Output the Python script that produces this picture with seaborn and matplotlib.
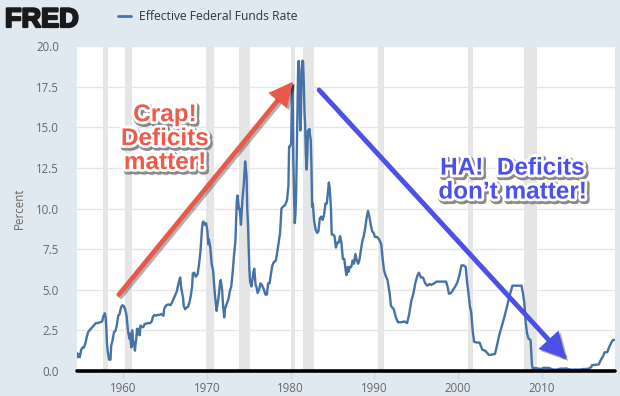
import numpy as np
import pandas as pd
import matplotlib
matplotlib.use("Agg")
import matplotlib.pyplot as plt
import matplotlib.patheffects as pe
import seaborn as sns

# ---------------- data ----------------
years = [
    1954.50, 1954.58, 1954.67, 1954.83, 1955.00, 1955.17, 1955.33, 1955.50, 1955.67, 1955.83,
    1956.00, 1956.25, 1956.50, 1956.75, 1957.00, 1957.25, 1957.50, 1957.67, 1957.83, 1957.92,
    1958.00, 1958.08, 1958.17, 1958.33, 1958.42, 1958.50, 1958.58, 1958.75, 1958.92, 1959.08,
    1959.25, 1959.42, 1959.58, 1959.75, 1959.92, 1960.08, 1960.25, 1960.42, 1960.58, 1960.75,
    1960.83, 1960.92, 1961.00, 1961.08, 1961.17, 1961.25, 1961.33, 1961.42, 1961.50, 1961.58,
    1961.67, 1961.75, 1961.83, 1962.00, 1962.08, 1962.25, 1962.42, 1962.58, 1962.75, 1962.92,
    1963.08, 1963.25, 1963.42, 1963.58, 1963.75, 1963.92, 1964.08, 1964.33, 1964.58, 1964.83,
    1964.92, 1965.17, 1965.42, 1965.67, 1965.92, 1966.17, 1966.42, 1966.58, 1966.75, 1966.83,
    1966.92, 1967.00, 1967.17, 1967.25, 1967.42, 1967.58, 1967.75, 1967.92, 1968.08, 1968.25,
    1968.33, 1968.50, 1968.67, 1968.83, 1968.92, 1969.08, 1969.25, 1969.42, 1969.50, 1969.58,
    1969.75, 1969.92, 1970.08, 1970.17, 1970.25, 1970.42, 1970.58, 1970.75, 1970.92, 1971.08,
    1971.17, 1971.42, 1971.58, 1971.67, 1971.83, 1971.92, 1972.08, 1972.17, 1972.42, 1972.58,
    1972.75, 1972.92, 1973.08, 1973.25, 1973.42, 1973.58, 1973.67, 1973.83, 1973.92, 1974.08,
    1974.25, 1974.42, 1974.58, 1974.75, 1974.83, 1974.92, 1975.08, 1975.17, 1975.33, 1975.42,
    1975.58, 1975.67, 1975.83, 1975.92, 1976.08, 1976.25, 1976.42, 1976.58, 1976.83, 1977.00,
    1977.17, 1977.33, 1977.50, 1977.67, 1977.83, 1978.00, 1978.25, 1978.50, 1978.75, 1978.92,
    1979.08, 1979.33, 1979.58, 1979.75, 1979.83, 1979.92, 1980.08, 1980.17, 1980.25, 1980.33,
    1980.42, 1980.50, 1980.58, 1980.67, 1980.83, 1980.92, 1981.00, 1981.08, 1981.17, 1981.25,
    1981.33, 1981.42, 1981.50, 1981.58, 1981.67, 1981.75, 1981.83, 1981.92, 1982.00, 1982.08,
    1982.17, 1982.25, 1982.33, 1982.42, 1982.50, 1982.58, 1982.67, 1982.75, 1982.83, 1982.92,
    1983.00, 1983.17, 1983.33, 1983.50, 1983.67, 1983.83, 1984.00, 1984.17, 1984.33, 1984.50,
    1984.58, 1984.67, 1984.83, 1984.92, 1985.08, 1985.25, 1985.42, 1985.58, 1985.75, 1985.92,
    1986.08, 1986.25, 1986.42, 1986.58, 1986.67, 1986.83, 1986.92, 1987.08, 1987.25, 1987.42,
    1987.58, 1987.75, 1987.92, 1988.08, 1988.25, 1988.42, 1988.58, 1988.75, 1988.92, 1989.08,
    1989.25, 1989.42, 1989.58, 1989.75, 1989.92, 1990.08, 1990.33, 1990.58, 1990.83, 1991.00,
    1991.17, 1991.33, 1991.58, 1991.83, 1992.00, 1992.33, 1992.58, 1992.83, 1993.25, 1993.58,
    1993.92, 1994.17, 1994.42, 1994.67, 1994.92, 1995.17, 1995.33, 1995.58, 1995.83, 1996.08,
    1996.33, 1996.58, 1996.83, 1997.17, 1997.42, 1997.67, 1997.92, 1998.25, 1998.58, 1998.75,
    1998.92, 1999.17, 1999.42, 1999.67, 1999.92, 2000.17, 2000.42, 2000.67, 2000.92, 2001.08,
    2001.25, 2001.42, 2001.58, 2001.75, 2001.92, 2002.25, 2002.58, 2002.92, 2003.25, 2003.50,
    2003.67, 2004.00, 2004.42, 2004.58, 2004.92, 2005.25, 2005.58, 2005.92, 2006.25, 2006.50,
    2007.00, 2007.58, 2007.75, 2007.92, 2008.08, 2008.25, 2008.42, 2008.67, 2008.83, 2008.92,
    2009.25, 2009.58, 2009.92, 2010.25, 2010.58, 2010.92, 2011.25, 2011.58, 2011.92, 2012.25,
    2012.58, 2012.92, 2013.25, 2013.58, 2013.92, 2014.25, 2014.58, 2014.92, 2015.25, 2015.58,
    2015.92, 2016.00, 2016.42, 2016.83, 2016.92, 2017.17, 2017.33, 2017.50, 2017.83, 2018.00,
    2018.25, 2018.50, 2018.67,
]
rate = [
    1.10, 0.85, 1.05, 0.85, 1.30, 1.45, 1.45, 1.70, 2.10, 2.40,
    2.50, 2.65, 2.80, 2.95, 2.95, 3.00, 3.05, 3.40, 3.55, 3.30,
    2.70, 1.70, 1.20, 0.70, 0.75, 0.70, 1.55, 1.90, 2.40, 2.45,
    2.80, 3.40, 3.50, 3.90, 4.05, 4.00, 3.80, 3.40, 2.50, 2.00,
    2.30, 1.80, 1.45, 2.50, 2.00, 1.60, 1.75, 1.25, 1.70, 2.00,
    2.60, 2.25, 2.60, 2.20, 2.80, 2.70, 2.70, 2.90, 2.90, 2.95,
    2.95, 2.95, 3.05, 3.35, 3.45, 3.40, 3.45, 3.45, 3.50, 3.40,
    3.85, 4.05, 4.10, 4.05, 4.30, 4.60, 4.90, 5.30, 5.65, 5.75,
    5.20, 4.95, 4.50, 4.00, 3.80, 3.90, 3.95, 4.20, 4.60, 5.20,
    6.00, 6.05, 5.80, 5.90, 6.00, 6.60, 7.40, 8.70, 9.10, 9.20,
    9.00, 9.10, 8.60, 7.80, 8.10, 7.60, 6.60, 6.20, 5.00, 4.10,
    3.70, 4.60, 5.40, 5.60, 5.00, 4.20, 3.30, 3.80, 4.20, 4.40,
    4.90, 5.20, 6.00, 7.10, 8.00, 10.40, 10.80, 10.00, 10.00, 9.00,
    10.50, 11.50, 12.90, 12.00, 10.00, 9.00, 6.30, 5.50, 5.20, 5.50,
    6.10, 6.30, 5.30, 5.20, 4.80, 5.00, 5.40, 5.30, 5.00, 4.70,
    4.70, 5.40, 5.40, 6.00, 6.50, 6.70, 6.80, 7.60, 8.50, 10.00,
    10.10, 10.20, 10.50, 11.40, 13.80, 13.80, 14.00, 17.20, 17.60, 13.00,
    11.00, 9.10, 9.60, 10.90, 15.90, 19.00, 19.08, 16.60, 14.80, 15.70,
    18.50, 19.10, 19.04, 17.80, 15.90, 15.10, 13.30, 12.40, 13.20, 14.80,
    14.70, 14.90, 14.50, 14.20, 12.60, 10.10, 10.30, 9.70, 9.20, 8.95,
    8.70, 8.50, 8.60, 9.40, 9.50, 9.30, 9.60, 10.30, 10.30, 11.20,
    11.60, 11.30, 9.99, 8.40, 8.40, 8.30, 7.60, 7.90, 7.90, 8.30,
    7.90, 6.90, 6.90, 6.20, 5.90, 6.40, 6.10, 6.40, 6.40, 6.80,
    6.60, 7.20, 6.80, 6.60, 6.90, 7.50, 8.00, 8.30, 8.80, 9.40,
    9.85, 9.50, 9.00, 8.60, 8.50, 8.25, 8.25, 8.10, 7.80, 6.90,
    6.20, 5.90, 5.60, 4.80, 4.00, 3.80, 3.30, 3.00, 3.00, 3.05,
    2.95, 3.50, 4.30, 4.75, 5.45, 5.90, 6.05, 5.75, 5.75, 5.40,
    5.25, 5.35, 5.30, 5.40, 5.50, 5.50, 5.50, 5.50, 5.50, 5.20,
    4.75, 4.80, 5.00, 5.20, 5.45, 5.90, 6.50, 6.50, 6.40, 5.50,
    4.80, 4.00, 3.60, 2.50, 1.80, 1.75, 1.75, 1.30, 1.25, 1.10,
    1.00, 1.00, 1.05, 1.40, 2.20, 2.80, 3.40, 4.10, 4.80, 5.25,
    5.25, 5.25, 4.80, 4.20, 3.00, 2.30, 2.00, 1.90, 0.40, 0.16,
    0.18, 0.15, 0.12, 0.20, 0.19, 0.18, 0.10, 0.08, 0.10, 0.15,
    0.14, 0.16, 0.11, 0.08, 0.09, 0.09, 0.09, 0.12, 0.12, 0.14,
    0.24, 0.36, 0.38, 0.41, 0.54, 0.79, 0.90, 1.15, 1.16, 1.41,
    1.69, 1.91, 1.91,
]
recession_start = [1957.58, 1960.25, 1969.92, 1973.83, 1980.00, 1981.50, 1990.50, 2001.17, 2007.92]
recession_end   = [1958.25, 1961.08, 1970.83, 1975.17, 1980.50, 1982.83, 1991.17, 2001.83, 2009.42]
x_ticks = [1960, 1970, 1980, 1990, 2000, 2010]
y_ticks = [0.0, 2.5, 5.0, 7.5, 10.0, 12.5, 15.0, 17.5, 20.0]
series_name = "Effective Federal Funds Rate"
red_note = "Crap!\nDeficits\nmatter!"
blue_note = "HA!  Deficits\ndon\u2019t matter!"
red_arrow_tail = (1959.5, 4.7)
red_arrow_head = (1980.3, 17.8)
blue_arrow_tail = (1983.4, 17.3)
blue_arrow_head = (2012.9, 0.75)
red_note_pos = (1965.0, 14.3)
blue_note_pos = (2006.5, 11.75)

df = pd.DataFrame({"year": years, "rate": rate})

# ---------------- style ----------------
BG = "#e1e9f0"
LINE = "#4572a7"
sns.set_theme(style="white")
plt.rcParams["font.family"] = ["Open Sans", "DejaVu Sans"]

fig = plt.figure(figsize=(6.2, 3.96), dpi=100, facecolor=BG)
ax = fig.add_axes([77 / 620, 25 / 396, 538 / 620, 325 / 396])
ax.set_facecolor("white")

for s, e in zip(recession_start, recession_end):
    ax.axvspan(s, e, color="#e5e5e5", lw=0, zorder=0.5)

ax.set_yticks(y_ticks)
ax.yaxis.grid(True, color="#e6e6e6", lw=1.0, zorder=0.6)
ax.xaxis.grid(False)
ax.set_axisbelow(True)

sns.lineplot(data=df, x="year", y="rate", ax=ax, color=LINE, lw=1.7, zorder=3)

ax.axhline(0, color="black", lw=2.6, zorder=4, clip_on=False)

ax.set_xlim(1954.5, 2018.75)
ax.set_ylim(0, 20)
ax.set_xticks(x_ticks)
ax.set_xticklabels([str(t) for t in x_ticks])
ax.set_yticklabels([f"{t:.1f}" for t in y_ticks])
for sp in ax.spines.values():
    sp.set_visible(False)
ax.tick_params(axis="x", bottom=True, length=6, width=1, color="#ccd6eb", pad=2,
               labelsize=8.3, labelcolor="#666666", direction="out")
ax.tick_params(axis="y", left=False, length=0, pad=13, labelsize=8.3, labelcolor="#666666")
ax.set_xlabel("")
ax.set_ylabel("Percent", color="#666666", fontsize=8.3, labelpad=7)

# ---------------- annotations ----------------
shadow = [pe.SimpleLineShadow(offset=(1.5, -1.5), shadow_color="black", alpha=0.3), pe.Normal()]
for tail, head, col, hl, hw in [(red_arrow_tail, red_arrow_head, "#ea5849", 0.85, 0.42),
                                (blue_arrow_tail, blue_arrow_head, "#4b50e8", 0.95, 0.5)]:
    an = ax.annotate("", xy=head, xytext=tail, zorder=6,
                     arrowprops=dict(arrowstyle=f"-|>,head_length={hl},head_width={hw}",
                                     color=col, lw=3.4, shrinkA=0, shrinkB=0,
                                     mutation_scale=14, joinstyle="miter"))
    an.arrow_patch.set_path_effects(shadow)

txt_fx = [pe.Stroke(linewidth=5, foreground="#8a8a8a", offset=(1.2, -1.5)),
          pe.Stroke(linewidth=4, foreground="white"), pe.Normal()]
ax.text(*red_note_pos, red_note, ha="center", va="center", fontsize=17.5,
        fontweight="bold", family="Liberation Sans", color="#ef5a4b",
        linespacing=1.05, zorder=7, path_effects=txt_fx)
ax.text(*blue_note_pos, blue_note, ha="center", va="center", fontsize=17.5,
        fontweight="bold", family="Liberation Sans", color="#4b50ee",
        linespacing=1.05, zorder=7, path_effects=txt_fx)

# ---------------- header ----------------
fig.text(5 / 620, 1 - 27 / 396, "FRED", ha="left", va="baseline", fontsize=19.5,
         fontweight="heavy", family="Liberation Sans", color="#1a1a1a",
         path_effects=[pe.Stroke(linewidth=1.6, foreground="#1a1a1a"), pe.Normal()])
fig.add_artist(plt.Line2D([118 / 620, 131 / 620], [1 - 16 / 396, 1 - 16 / 396],
                          color=LINE, lw=2, transform=fig.transFigure))
fig.text(139 / 620, 1 - 16 / 396, series_name, ha="left", va="center",
         fontsize=8.7, color="#333333")

fig.savefig("out.png", dpi=100, facecolor=BG)
